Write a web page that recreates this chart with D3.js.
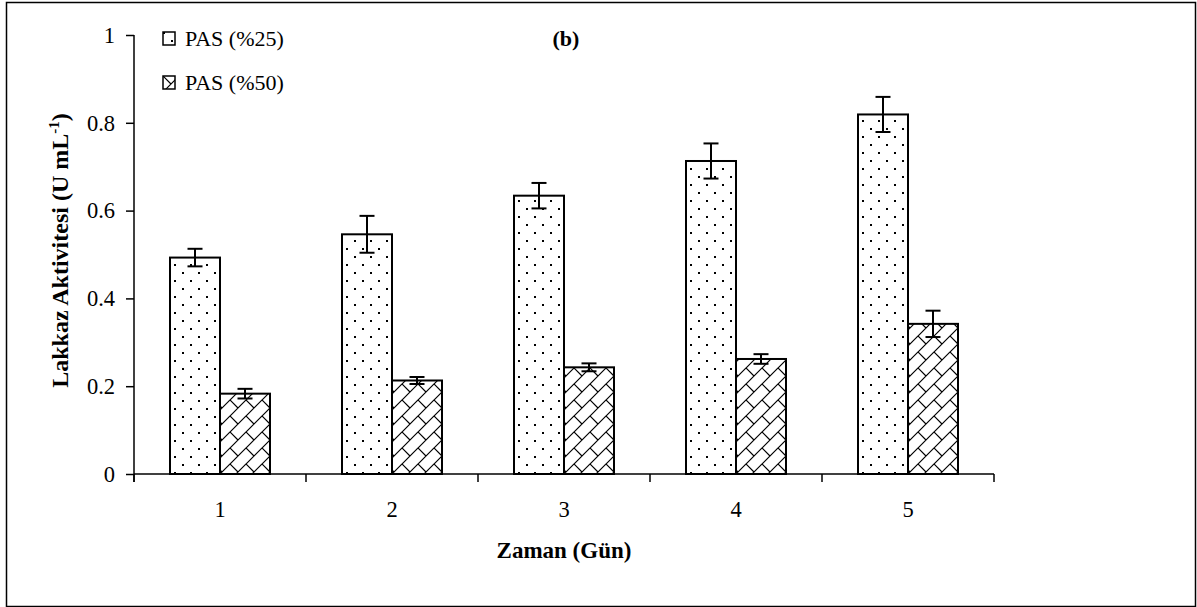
<!DOCTYPE html>
<html>
<head>
<meta charset="utf-8">
<script src="https://cdn.jsdelivr.net/npm/d3@7"></script>
<style>
  html, body { margin: 0; padding: 0; background: #fff; }
  svg { display: block; }
  text { font-family: "Liberation Serif", Tinos, "Times New Roman", Times, "DejaVu Serif", serif; fill: #000; }
</style>
</head>
<body>
<script>
const categories = ["1", "2", "3", "4", "5"];
const seriesNames = ["PAS (%25)", "PAS (%50)"];
const pas25 = [0.493, 0.546, 0.634, 0.713, 0.819];
const pas25Err = [0.020, 0.042, 0.029, 0.040, 0.040];
const pas50 = [0.183, 0.213, 0.243, 0.262, 0.342];
const pas50Err = [0.011, 0.008, 0.009, 0.011, 0.030];
const yTicks = [0, 0.2, 0.4, 0.6, 0.8, 1];
const yTickLabels = ["0", "0.2", "0.4", "0.6", "0.8", "1"];

const FONT = '"Liberation Serif", Tinos, "Times New Roman", Times, "DejaVu Serif", serif';
const W = 1197, H = 607;
const svg = d3.select("body").append("svg").attr("width", W).attr("height", H);

const defs = svg.append("defs");
const dots = defs.append("pattern").attr("id", "dots")
  .attr("patternUnits", "userSpaceOnUse").attr("width", 16).attr("height", 16);
dots.append("rect").attr("width", 16).attr("height", 16).attr("fill", "#fff");
dots.append("rect").attr("x", 0).attr("y", 0).attr("width", 2).attr("height", 2).attr("fill", "#000");
dots.append("rect").attr("x", 8).attr("y", 8).attr("width", 2).attr("height", 2).attr("fill", "#000");
const brick = defs.append("pattern").attr("id", "brick")
  .attr("patternUnits", "userSpaceOnUse").attr("width", 16).attr("height", 16);
brick.append("rect").attr("width", 16).attr("height", 16).attr("fill", "#fff");
brick.append("path")
  .attr("d", "M-1,17 L17,-1 M-1,1 L1,-1 M15,17 L17,15 M0,0 L8,8")
  .attr("stroke", "#000").attr("stroke-width", 1.2).attr("fill", "none");

svg.append("rect").attr("x", 6.5).attr("y", 2.5).attr("width", 1189).attr("height", 604)
  .attr("fill", "none").attr("stroke", "#000").attr("stroke-width", 1.5);

const x0 = 134, x1 = 994, yTop = 35, yBot = 474;
const x = d3.scaleBand().domain(categories).range([x0, x1]).paddingInner(0).paddingOuter(0);
const xs = d3.scaleBand().domain(seriesNames).range([0, x.bandwidth()]).paddingInner(0).paddingOuter(0.72);
const y = d3.scaleLinear().domain([0, 1]).range([yBot, yTop]);

const data = categories.map((c, i) => ({
  cat: c,
  vals: [
    { s: seriesNames[0], v: pas25[i], e: pas25Err[i], fill: "url(#dots)" },
    { s: seriesNames[1], v: pas50[i], e: pas50Err[i], fill: "url(#brick)" }
  ]
}));

const g = svg.append("g");
const grp = g.selectAll("g.cat").data(data).join("g")
  .attr("transform", d => `translate(${x(d.cat)},0)`);

grp.selectAll("rect").data(d => d.vals).join("rect")
  .attr("x", d => xs(d.s))
  .attr("y", d => y(d.v))
  .attr("width", xs.bandwidth())
  .attr("height", d => y(0) - y(d.v))
  .attr("fill", d => d.fill)
  .attr("stroke", "#000").attr("stroke-width", 2);

const eb = grp.selectAll("g.err").data(d => d.vals).join("g").attr("class", "err");
eb.append("line")
  .attr("x1", d => xs(d.s) + xs.bandwidth() / 2).attr("x2", d => xs(d.s) + xs.bandwidth() / 2)
  .attr("y1", d => y(d.v + d.e)).attr("y2", d => y(d.v - d.e))
  .attr("stroke", "#000").attr("stroke-width", 2);
eb.selectAll("line.cap").data(d => [{ d, t: d.v + d.e }, { d, t: d.v - d.e }]).join("line")
  .attr("class", "cap")
  .attr("x1", o => xs(o.d.s) + xs.bandwidth() / 2 - 7.5)
  .attr("x2", o => xs(o.d.s) + xs.bandwidth() / 2 + 7.5)
  .attr("y1", o => y(o.t)).attr("y2", o => y(o.t))
  .attr("stroke", "#000").attr("stroke-width", 2);

const yAxis = d3.axisLeft(y).tickValues(yTicks).tickFormat((d, i) => yTickLabels[i])
  .tickSize(8).tickPadding(11);
const ya = svg.append("g").attr("transform", `translate(${x0},0)`).call(yAxis);
ya.select(".domain").remove();
ya.append("line").attr("x1", 0).attr("x2", 0).attr("y1", yTop).attr("y2", yBot + 8)
  .attr("stroke", "#000").attr("stroke-width", 1.5);
ya.selectAll(".tick line").attr("stroke", "#000").attr("stroke-width", 1.5);
ya.selectAll(".tick text").attr("font-size", 22.5).attr("font-family", FONT).attr("fill", "#000");

const xa = svg.append("g").attr("transform", `translate(0,${yBot})`);
xa.append("line").attr("x1", x0).attr("x2", x1).attr("y1", 0).attr("y2", 0)
  .attr("stroke", "#000").attr("stroke-width", 1.5);
const bounds = categories.map(c => x(c)).concat([x1]);
xa.selectAll("line.tk").data(bounds).join("line").attr("class", "tk")
  .attr("x1", d => d).attr("x2", d => d).attr("y1", 0).attr("y2", 8)
  .attr("stroke", "#000").attr("stroke-width", 1.5);
xa.selectAll("text").data(categories).join("text")
  .attr("x", d => x(d) + x.bandwidth() / 2).attr("y", 43)
  .attr("text-anchor", "middle").attr("font-size", 22.5).attr("font-family", FONT).text(d => d);

svg.append("text").attr("x", (x0 + x1) / 2).attr("y", 558)
  .attr("text-anchor", "middle").attr("font-size", 23).attr("font-weight", "bold").attr("font-family", FONT)
  .text("Zaman (Gün)");
const yt = svg.append("text").attr("transform", `translate(68,${(yTop + yBot) / 2 - 4}) rotate(-90)`)
  .attr("text-anchor", "middle").attr("font-size", 24).attr("font-weight", "bold").attr("font-family", FONT);
yt.append("tspan").text("Lakkaz Aktivitesi (U mL");
yt.append("tspan").attr("dy", -9).attr("font-size", 15).text("-1");
yt.append("tspan").attr("dy", 9).text(")");

svg.append("text").attr("x", 566).attr("y", 46).attr("text-anchor", "middle")
  .attr("font-size", 22).attr("font-weight", "bold").attr("font-family", FONT).text("(b)");

const lg = svg.append("g").selectAll("g").data(seriesNames).join("g")
  .attr("transform", (d, i) => `translate(163,${32 + i * 44})`);
lg.append("rect").attr("width", 12).attr("height", 13)
  .attr("fill", (d, i) => i === 0 ? "url(#dots)" : "url(#brick)")
  .attr("stroke", "#000").attr("stroke-width", 1.5);
lg.append("text").attr("x", 22).attr("y", 14).attr("font-size", 22).attr("font-family", FONT).text(d => d);
</script>
</body>
</html>
